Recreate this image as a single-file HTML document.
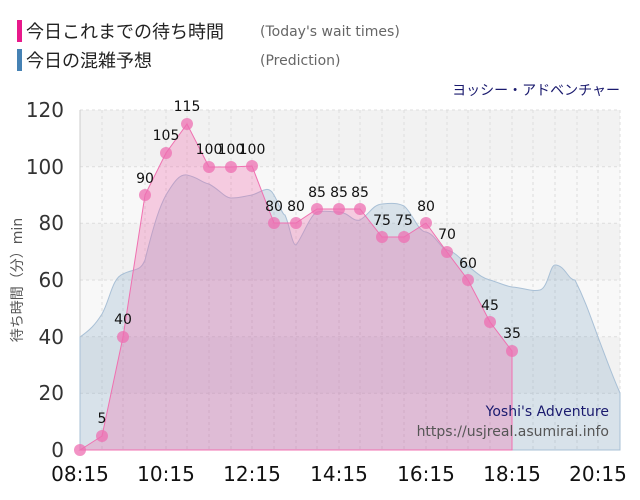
<!DOCTYPE html>
<html><head><meta charset="utf-8"><style>
body{margin:0;background:#fff;width:640px;height:500px;overflow:hidden}
svg{display:block;font-family:"DejaVu Sans","Noto Sans CJK JP",sans-serif}
</style></head><body>
<svg width="640" height="500" viewBox="0 0 640 500" xmlns="http://www.w3.org/2000/svg">
<rect x="17" y="20" width="5" height="22" fill="#e8198b"/>
<rect x="17" y="49" width="5" height="22" fill="#4682b4"/>
<text x="26" y="38" font-size="18" fill="#222" font-family="Noto Sans CJK JP, sans-serif">今日これまでの待ち時間</text>
<text x="26" y="67" font-size="18" fill="#222" font-family="Noto Sans CJK JP, sans-serif">今日の混雑予想</text>
<text x="260" y="36" font-size="14" fill="#666">(Today's wait times)</text>
<text x="260" y="65" font-size="14" fill="#666">(Prediction)</text>
<text x="620" y="95" font-size="14" fill="#1a1a6e" text-anchor="end" font-family="Noto Sans CJK JP, sans-serif">ヨッシー・アドベンチャー</text>
<rect x="80" y="110" width="540" height="56.7" fill="#f2f2f2"/>
<rect x="80" y="166.7" width="540" height="56.7" fill="#f8f8f8"/>
<rect x="80" y="223.3" width="540" height="56.7" fill="#f2f2f2"/>
<rect x="80" y="280" width="540" height="56.7" fill="#f8f8f8"/>
<rect x="80" y="336.7" width="540" height="56.7" fill="#f2f2f2"/>
<rect x="80" y="393.3" width="540" height="56.7" fill="#f8f8f8"/>
<g stroke="#ddd" stroke-dasharray="3,3" stroke-width="1">
<line x1="80" y1="110" x2="620" y2="110"/><line x1="80" y1="166.7" x2="620" y2="166.7"/><line x1="80" y1="223.3" x2="620" y2="223.3"/><line x1="80" y1="280" x2="620" y2="280"/><line x1="80" y1="336.7" x2="620" y2="336.7"/><line x1="80" y1="393.3" x2="620" y2="393.3"/>
<line x1="102" y1="110" x2="102" y2="450"/><line x1="123" y1="110" x2="123" y2="450"/><line x1="145" y1="110" x2="145" y2="450"/><line x1="166" y1="110" x2="166" y2="450"/><line x1="187" y1="110" x2="187" y2="450"/><line x1="209" y1="110" x2="209" y2="450"/><line x1="231" y1="110" x2="231" y2="450"/><line x1="252" y1="110" x2="252" y2="450"/><line x1="274" y1="110" x2="274" y2="450"/><line x1="296" y1="110" x2="296" y2="450"/><line x1="317" y1="110" x2="317" y2="450"/><line x1="339" y1="110" x2="339" y2="450"/><line x1="360" y1="110" x2="360" y2="450"/><line x1="382" y1="110" x2="382" y2="450"/><line x1="404" y1="110" x2="404" y2="450"/><line x1="426" y1="110" x2="426" y2="450"/><line x1="447" y1="110" x2="447" y2="450"/><line x1="468" y1="110" x2="468" y2="450"/><line x1="490" y1="110" x2="490" y2="450"/><line x1="512" y1="110" x2="512" y2="450"/><line x1="533" y1="110" x2="533" y2="450"/><line x1="555" y1="110" x2="555" y2="450"/><line x1="577" y1="110" x2="577" y2="450"/><line x1="598" y1="110" x2="598" y2="450"/><line x1="620" y1="110" x2="620" y2="450"/>
</g>
<line x1="80" y1="110" x2="80" y2="450" stroke="#ccc"/>
<path d="M80,337 C90,330 95,325 102,314 C110,300 112,278 123,274 C135,268 140,272 145,260 C155,220 160,206 166,195 C175,180 180,174 187,175 C200,178 200,182 209,184 C220,190 225,198 231,198 C240,198 245,196 252,195 C262,192 266,186 272,192 C278,200 282,215 285,215 C290,226 292,245 296,245 C302,238 310,215 317,212 C325,210 330,212 339,212 C350,213 352,222 360,220 C370,214 372,205 382,204 C392,203 398,203 404,206 C412,212 418,232 426,232 C435,234 440,248 447,250 C455,252 460,258 468,266 C478,274 482,278 490,280 C500,283 505,286 512,287 C525,288 532,292 540,290 C548,288 550,265 555,265 C565,265 568,280 575,280 C585,300 590,315 598,337 C606,358 612,375 620,393 L620,450 L80,450 Z" fill="rgba(120,160,190,0.25)" stroke="#a9c0d6" stroke-width="1"/>
<path d="M80,450 L102,436 L123,337 L145,195 L166,153 L187,124 L209,167 L231,167 L252,166 L274,223 L296,223 L317,209 L339,209 L360,209 L382,237 L404,237 L426,223 L447,252 L468,280 L490,322 L512,351 L512,450 Z" fill="rgba(240,100,170,0.3)" stroke="#f070b0" stroke-width="1"/>
<g fill="#ee6fb2" fill-opacity="0.75">
<circle cx="80" cy="450" r="6"/><circle cx="102" cy="436" r="6"/><circle cx="123" cy="337" r="6"/><circle cx="145" cy="195" r="6"/><circle cx="166" cy="153" r="6"/><circle cx="187" cy="124" r="6"/><circle cx="209" cy="167" r="6"/><circle cx="231" cy="167" r="6"/><circle cx="252" cy="166" r="6"/><circle cx="274" cy="223" r="6"/><circle cx="296" cy="223" r="6"/><circle cx="317" cy="209" r="6"/><circle cx="339" cy="209" r="6"/><circle cx="360" cy="209" r="6"/><circle cx="382" cy="237" r="6"/><circle cx="404" cy="237" r="6"/><circle cx="426" cy="223" r="6"/><circle cx="447" cy="252" r="6"/><circle cx="468" cy="280" r="6"/><circle cx="490" cy="322" r="6"/><circle cx="512" cy="351" r="6"/>
</g>
<g font-size="14" fill="#111" text-anchor="middle">
<text x="102" y="423">5</text><text x="123" y="324">40</text><text x="145" y="183">90</text><text x="166" y="140">105</text><text x="187" y="111">115</text><text x="209" y="154">100</text><text x="231" y="154">100</text><text x="252" y="154">100</text><text x="274" y="211">80</text><text x="296" y="211">80</text><text x="317" y="197">85</text><text x="339" y="197">85</text><text x="360" y="197">85</text><text x="382" y="225">75</text><text x="404" y="225">75</text><text x="426" y="211">80</text><text x="447" y="239">70</text><text x="468" y="268">60</text><text x="490" y="310">45</text><text x="512" y="338">35</text>
</g>
<g font-size="20" fill="#333" text-anchor="end">
<text x="64" y="117">120</text><text x="64" y="174">100</text><text x="64" y="230">80</text><text x="64" y="287">60</text><text x="64" y="344">40</text><text x="64" y="400">20</text><text x="64" y="457">0</text>
</g>
<text transform="translate(22,280) rotate(-90)" font-size="14" fill="#555" text-anchor="middle">待ち時間（分）min</text>
<g font-size="20" fill="#111" text-anchor="middle">
<text x="80" y="481">08:15</text><text x="166" y="481">10:15</text><text x="252" y="481">12:15</text><text x="339" y="481">14:15</text><text x="426" y="481">16:15</text><text x="512" y="481">18:15</text><text x="598" y="481">20:15</text>
</g>
<text x="609" y="416" font-size="14" fill="#1a1a6e" text-anchor="end">Yoshi's Adventure</text>
<text x="609" y="436" font-size="14" fill="#555" text-anchor="end">https://usjreal.asumirai.info</text>
</svg>
</body></html>
